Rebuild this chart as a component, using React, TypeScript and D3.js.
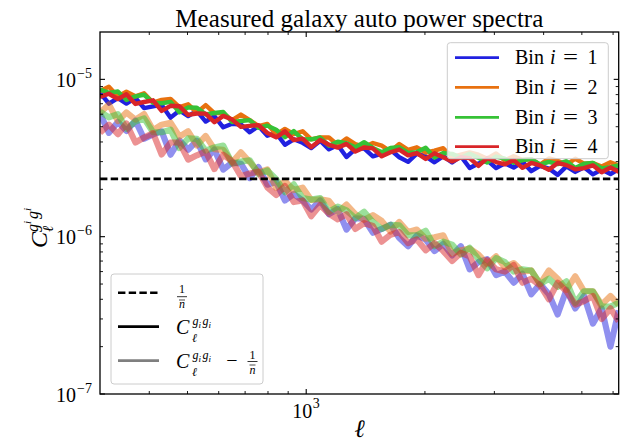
import React from 'react';
import * as d3 from 'd3';

// multipole grid
const ELL = [300,316,333,350,369,388,409,430,453,477,502,528,556,585,616,649,683,719,757,797,839,883,930,979,1030,1085,1142,1202,1265,1332,1402,1476,1554,1636,1722,1813,1908,2009,2115,2226,2344,2467,2597,2734,2878,3030,3190,3358,3535,3721,3918,4124,4341,4570,4811,5065,5332,5613,5909,6200];
const UNIT = 1e-6;
const NBAR_INV = 2.33; // 1/nbar in units of 1e-6

// C_ell^{g_i g_i} (units 1e-6)
const C_BIN1 = [8.23,7.00,7.59,7.02,7.63,6.56,6.74,6.88,5.71,6.34,5.84,6.30,5.39,5.84,4.96,5.22,5.17,4.61,5.05,4.38,4.55,3.84,4.16,3.95,3.66,4.07,3.59,3.83,3.21,3.60,3.64,3.24,3.37,3.57,3.20,2.99,3.37,3.24,2.97,3.25,2.96,3.25,2.73,2.92,3.06,2.73,2.93,2.75,2.99,2.61,2.82,2.71,2.47,2.80,2.58,2.76,2.49,2.67,2.50,2.69];
const C_BIN2 = [8.43,8.98,7.79,8.34,7.80,8.16,7.11,7.40,7.51,6.67,6.94,6.15,6.86,6.11,6.08,5.50,5.97,5.51,5.05,5.21,4.45,4.84,4.49,4.68,4.16,4.27,4.27,3.83,4.21,3.88,3.72,3.94,3.79,3.49,3.88,3.56,3.70,3.42,3.52,3.65,3.21,3.32,3.43,3.32,3.13,3.38,3.05,3.25,3.07,3.11,2.87,3.14,3.04,2.87,3.13,2.91,2.94,2.79,2.97,2.84];
const C_BIN3 = [8.63,8.20,8.37,7.39,7.80,7.98,7.11,7.05,7.19,6.17,6.64,6.60,5.99,6.11,6.21,5.35,5.44,5.51,4.92,5.08,4.78,4.29,4.69,4.15,4.16,4.27,3.79,4.01,3.93,3.70,3.99,3.67,3.44,3.66,3.70,3.41,3.45,3.67,3.19,3.40,3.36,3.17,3.36,3.17,2.96,3.23,3.13,2.95,3.07,3.11,2.87,2.99,2.89,3.02,2.73,2.91,2.94,2.72,2.77,2.84];
const C_BIN4 = [7.73,8.10,7.49,8.04,6.98,7.18,7.36,6.30,6.79,6.75,5.94,6.07,6.06,5.34,5.86,5.55,4.99,5.06,5.12,4.56,4.28,4.67,4.11,4.20,3.71,4.12,3.84,3.68,3.89,3.48,3.69,3.64,3.24,3.44,3.58,3.29,3.40,3.12,3.39,3.20,3.01,3.20,3.16,2.82,3.16,2.98,2.88,3.07,2.74,2.94,2.84,2.66,2.94,2.85,2.68,2.73,2.84,2.57,2.75,2.59];

// C_ell - 1/nbar (units 1e-6)
const SUB_BIN1 = [6.06,4.57,5.36,4.70,5.47,4.19,4.47,4.67,3.32,4.09,3.57,4.07,3.10,3.58,2.67,2.96,2.91,2.36,2.77,2.14,2.23,1.70,1.87,1.70,1.49,1.70,1.39,1.50,1.11,1.31,1.30,1.06,1.12,1.19,0.98,0.87,1.02,0.96,0.81,0.90,0.76,0.87,0.62,0.69,0.72,0.57,0.60,0.51,0.58,0.43,0.50,0.43,0.32,0.46,0.35,0.42,0.28,0.35,0.20,0.34];
const SUB_BIN2 = [6.15,6.91,5.44,6.16,5.55,6.02,4.76,5.15,5.30,4.33,4.68,3.80,4.37,3.60,3.56,2.97,3.44,2.98,2.56,2.68,2.05,2.25,1.98,2.05,1.71,1.73,1.69,1.43,1.60,1.39,1.28,1.37,1.26,1.08,1.24,1.07,1.11,0.97,0.99,1.02,0.78,0.82,0.84,0.77,0.67,0.75,0.64,0.68,0.60,0.61,0.50,0.61,0.54,0.46,0.56,0.45,0.45,0.37,0.42,0.37];
const SUB_BIN3 = [6.24,5.74,6.01,4.85,5.40,5.65,4.61,4.61,4.79,3.66,4.21,4.19,3.52,3.69,3.79,2.91,3.00,3.06,2.50,2.64,2.32,1.92,2.15,1.76,1.72,1.76,1.44,1.55,1.47,1.31,1.44,1.24,1.12,1.19,1.18,1.02,1.02,1.09,0.87,0.93,0.89,0.77,0.85,0.72,0.63,0.73,0.69,0.60,0.62,0.61,0.50,0.54,0.48,0.52,0.38,0.45,0.45,0.36,0.36,0.38];
const SUB_BIN4 = [4.59,5.15,4.48,5.24,3.97,4.27,4.55,3.33,3.97,3.97,3.09,3.29,3.48,2.69,3.32,3.01,2.42,2.52,2.59,2.06,1.84,2.10,1.66,1.70,1.35,1.59,1.40,1.29,1.39,1.12,1.22,1.17,0.93,1.03,1.07,0.91,0.96,0.82,0.91,0.81,0.70,0.79,0.75,0.57,0.71,0.62,0.60,0.66,0.51,0.54,0.49,0.40,0.51,0.45,0.37,0.39,0.42,0.30,0.35,0.29];

const BIN_LABELS = ['1', '2', '3', '4'];
const BIN_COLORS = ['#2121e0', '#e8710f', '#36c236', '#d92528'];
const C_SERIES = [C_BIN1, C_BIN2, C_BIN3, C_BIN4];
const SUB_SERIES = [SUB_BIN1, SUB_BIN2, SUB_BIN3, SUB_BIN4];

const X_DOMAIN = [300, 6200];
const Y_DOMAIN = [1e-7, 2e-5];
const X_MAJOR = [1000];
const X_MAJOR_EXP = ['3'];
const X_MINOR = [400, 500, 600, 700, 800, 900, 2000, 3000, 4000, 5000, 6000];
const Y_MAJOR = [1e-7, 1e-6, 1e-5];
const Y_MAJOR_EXP = ['\u22127', '\u22126', '\u22125'];
const Y_MINOR = [2e-7,3e-7,4e-7,5e-7,6e-7,7e-7,8e-7,9e-7,2e-6,3e-6,4e-6,5e-6,6e-6,7e-6,8e-6,9e-6];

const TITLE = 'Measured galaxy auto power spectra';
const FONT = "'Liberation Serif', 'Times New Roman', serif";

export default function App() {
  const L = 100, R = 618.7, T = 32, B = 394;
  const x = d3.scaleLog().domain(X_DOMAIN).range([L, R]);
  const y = d3.scaleLog().domain(Y_DOMAIN).range([B, T]);
  const line = d3.line<number>().x((_, i) => x(ELL[i])).y((v) => y(v * UNIT));

  const MAJ = 5, MIN = 3;
  const tickStroke = '#000';

  const legendRows = [57.7, 87.3, 117.3, 146.7];

  return (
    <svg width={633} height={443} style={{ position: 'absolute', left: 0, top: 0, background: '#fff' }} fontFamily={FONT}>
      <defs>
        <clipPath id="plotclip">
          <rect x={L} y={T} width={R - L} height={B - T} />
        </clipPath>
      </defs>
      <rect x={0} y={0} width={633} height={443} fill="#fff" />

      <g clipPath="url(#plotclip)">
        {C_SERIES.map((s, b) => (
          <g key={b}>
            <path d={line(s) || ''} fill="none" stroke={BIN_COLORS[b]} strokeWidth={4.4} strokeLinejoin="round" />
            <path d={line(SUB_SERIES[b]) || ''} fill="none" stroke={BIN_COLORS[b]} strokeOpacity={0.5} strokeWidth={6.2} strokeLinejoin="round" />
          </g>
        ))}
        <line x1={L} x2={R} y1={y(NBAR_INV * UNIT)} y2={y(NBAR_INV * UNIT)} stroke="#000" strokeWidth={2.6} strokeDasharray="7.4,3.3" />
      </g>

      {/* ticks */}
      {X_MINOR.map((v) => (
        <g key={'xm' + v}>
          <line x1={x(v)} x2={x(v)} y1={B} y2={B - MIN} stroke={tickStroke} strokeWidth={0.9} />
          <line x1={x(v)} x2={x(v)} y1={T} y2={T + MIN} stroke={tickStroke} strokeWidth={0.9} />
        </g>
      ))}
      {X_MAJOR.map((v, i) => (
        <g key={'xM' + v}>
          <line x1={x(v)} x2={x(v)} y1={B} y2={B - MAJ} stroke={tickStroke} strokeWidth={1.1} />
          <line x1={x(v)} x2={x(v)} y1={T} y2={T + MAJ} stroke={tickStroke} strokeWidth={1.1} />
          <text x={x(v) + 6} y={418} fontSize={20} textAnchor="end">10</text>
          <text x={x(v) + 6.5} y={407.5} fontSize={14}>{X_MAJOR_EXP[i]}</text>
        </g>
      ))}
      {Y_MINOR.map((v) => (
        <g key={'ym' + v}>
          <line x1={L} x2={L + MIN} y1={y(v)} y2={y(v)} stroke={tickStroke} strokeWidth={0.9} />
          <line x1={R} x2={R - MIN} y1={y(v)} y2={y(v)} stroke={tickStroke} strokeWidth={0.9} />
        </g>
      ))}
      {Y_MAJOR.map((v, i) => (
        <g key={'yM' + v}>
          <line x1={L} x2={L + MAJ} y1={y(v)} y2={y(v)} stroke={tickStroke} strokeWidth={1.1} />
          <line x1={R} x2={R - MAJ} y1={y(v)} y2={y(v)} stroke={tickStroke} strokeWidth={1.1} />
          <text x={76} y={y(v) + 7.5} fontSize={20} textAnchor="end">10</text>
          <text x={77} y={y(v) - 1.5} fontSize={14}>{Y_MAJOR_EXP[i]}</text>
        </g>
      ))}

      {/* frame */}
      <rect x={L} y={T} width={R - L} height={B - T} fill="none" stroke="#000" strokeWidth={1.3} />

      {/* title */}
      <text x={(L + R) / 2} y={27} fontSize={25} textAnchor="middle" textLength={368} lengthAdjust="spacing">{TITLE}</text>

      {/* x label */}
      <text x={(L + R) / 2} y={437} fontSize={25} fontStyle="italic" textAnchor="middle">ℓ</text>

      {/* y label */}
      <g transform="translate(47,218) rotate(-90)">
        <text x={-30} y={0} fontSize={24} fontStyle="italic">C</text>
        <text x={-14} y={-9} fontSize={16} fontStyle="italic">g</text>
        <text x={-6} y={-16} fontSize={11} fontStyle="italic">i</text>
        <text x={-1} y={-9} fontSize={16} fontStyle="italic">g</text>
        <text x={7} y={-16} fontSize={11} fontStyle="italic">i</text>
        <text x={-14} y={6} fontSize={15} fontStyle="italic">ℓ</text>
      </g>

      {/* legend 1 */}
      <rect x={447.3} y={42.7} width={161} height={116} rx={3} fill="#fff" fillOpacity={0.8} stroke="#cccccc" strokeWidth={1} />
      {BIN_LABELS.map((lab, i) => (
        <g key={'lg' + i}>
          <line x1={455} x2={499} y1={legendRows[i]} y2={legendRows[i]} stroke={BIN_COLORS[i]} strokeWidth={2.8} />
          <text x={515} y={legendRows[i] + 6.5} fontSize={20}>Bin</text>
          <text x={550} y={legendRows[i] + 6.5} fontSize={20} fontStyle="italic">i</text>
          <text x={563} y={legendRows[i] + 6.5} fontSize={20} textLength={15} lengthAdjust="spacingAndGlyphs">=</text>
          <text x={592.5} y={legendRows[i] + 6.5} fontSize={20} textAnchor="middle">{lab}</text>
        </g>
      ))}

      {/* legend 2 */}
      <rect x={111} y={274} width={152} height={110} rx={3} fill="#fff" fillOpacity={0.8} stroke="#cccccc" strokeWidth={1} />
      <line x1={118} x2={159} y1={292.7} y2={292.7} stroke="#000" strokeWidth={2.6} strokeDasharray="7.4,3.3" />
      <text x={182} y={293} fontSize={12} textAnchor="middle">1</text>
      <line x1={177} x2={187} y1={296.7} y2={296.7} stroke="#000" strokeWidth={0.8} />
      <text x={182} y={308} fontSize={12} fontStyle="italic" textAnchor="middle">n</text>
      <line x1={179} x2={185} y1={300} y2={300} stroke="#000" strokeWidth={0.7} />

      <line x1={118} x2={159} y1={326.7} y2={326.7} stroke="#000" strokeWidth={2.8} />
      <text x={176} y={333.5} fontSize={20} fontStyle="italic">C</text>
      <text x={192.5} y={325} fontSize={12} fontStyle="italic">g</text>
      <text x={198.5} y={327.5} fontSize={9} fontStyle="italic">i</text>
      <text x={202.5} y={325} fontSize={12} fontStyle="italic">g</text>
      <text x={208.5} y={327.5} fontSize={9} fontStyle="italic">i</text>
      <text x={192} y={341.5} fontSize={12} fontStyle="italic">ℓ</text>

      <line x1={118} x2={159} y1={360.7} y2={360.7} stroke="#000" strokeOpacity={0.5} strokeWidth={2.8} />
      <text x={176} y={367.5} fontSize={20} fontStyle="italic">C</text>
      <text x={192.5} y={359} fontSize={12} fontStyle="italic">g</text>
      <text x={198.5} y={361.5} fontSize={9} fontStyle="italic">i</text>
      <text x={202.5} y={359} fontSize={12} fontStyle="italic">g</text>
      <text x={208.5} y={361.5} fontSize={9} fontStyle="italic">i</text>
      <text x={192} y={375.5} fontSize={12} fontStyle="italic">ℓ</text>
      <text x={232} y={367} fontSize={20} textAnchor="middle">−</text>
      <text x={252.5} y={358.5} fontSize={12} textAnchor="middle">1</text>
      <line x1={247.5} x2={257.5} y1={361.5} y2={361.5} stroke="#000" strokeWidth={0.8} />
      <text x={252.5} y={373.5} fontSize={12} fontStyle="italic" textAnchor="middle">n</text>
      <line x1={249.5} x2={255.5} y1={365} y2={365} stroke="#000" strokeWidth={0.7} />
    </svg>
  );
}
